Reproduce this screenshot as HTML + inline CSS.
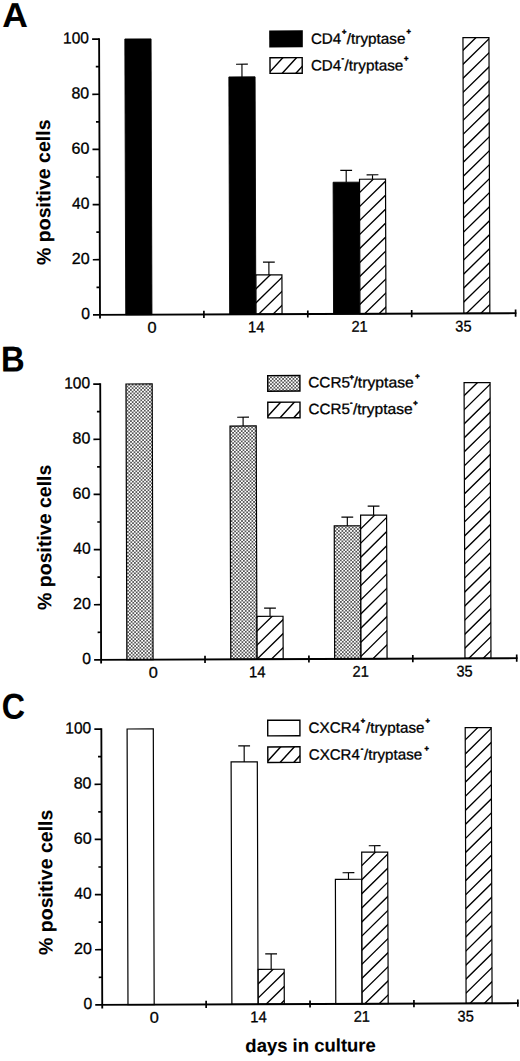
<!DOCTYPE html>
<html><head><meta charset="utf-8"><style>
html,body{margin:0;padding:0;background:#fff;}
svg{display:block;}
text{font-family:"Liberation Sans", sans-serif;fill:#000;stroke:#000;stroke-width:0.3px;stroke-linejoin:round;}
text[font-weight=bold]{stroke-width:0.1px;}
</style></head><body>
<svg width="520" height="1061" viewBox="0 0 520 1061">
<defs><pattern id="dots" patternUnits="userSpaceOnUse" width="3.46" height="3.46"><rect width="3.46" height="3.46" fill="#fff"/><circle cx="0.865" cy="0.865" r="0.77" fill="#000"/><circle cx="2.5949999999999998" cy="2.5949999999999998" r="0.77" fill="#000"/></pattern>
<clipPath id="c1"><rect x="256.05" y="275.58" width="26.00" height="39.27"/></clipPath><clipPath id="c2"><rect x="359.95" y="180.28" width="26.00" height="134.57"/></clipPath><clipPath id="c3"><rect x="463.85" y="39.10" width="26.00" height="275.75"/></clipPath><clipPath id="c4"><rect x="270.82" y="58.43" width="32.20" height="15.60"/></clipPath><clipPath id="c5"><rect x="256.05" y="616.97" width="26.00" height="42.88"/></clipPath><clipPath id="c6"><rect x="359.95" y="516.18" width="26.00" height="143.67"/></clipPath><clipPath id="c7"><rect x="463.85" y="384.10" width="26.00" height="275.75"/></clipPath><clipPath id="c8"><rect x="267.50" y="402.92" width="32.20" height="15.60"/></clipPath><clipPath id="c9"><rect x="256.05" y="969.97" width="26.00" height="34.88"/></clipPath><clipPath id="c10"><rect x="359.95" y="853.19" width="26.00" height="151.66"/></clipPath><clipPath id="c11"><rect x="463.85" y="729.10" width="26.00" height="275.75"/></clipPath><clipPath id="c12"><rect x="266.38" y="747.62" width="32.20" height="15.60"/></clipPath>
</defs>
<rect width="520" height="1061" fill="#fff"/>
<g transform="matrix(1,-0.004,0.00325,1,-1.0233,0.4000)">
<text x="3.15" y="26.51" font-size="34.59" font-weight="bold" textLength="25.62" lengthAdjust="spacingAndGlyphs">A</text>
<text transform="translate(50.56,264.89) rotate(-90)" font-size="19.4" font-weight="bold" textLength="145.69" lengthAdjust="spacingAndGlyphs">% positive cells</text>
<rect x="125.75" y="39.10" width="26.20" height="275.75" fill="#000" stroke="#000" stroke-width="0.9"/>
<rect x="229.65" y="77.48" width="26.20" height="237.37" fill="#000" stroke="#000" stroke-width="0.9"/>
<path d="M242.75 77.48V64.77M236.85 64.77H248.65" stroke="#000" stroke-width="1.15" fill="none"/>
<rect x="256.05" y="275.58" width="26.00" height="39.27" fill="#fff"/>
<path clip-path="url(#c1)" d="M198.99 316.85L243.55 273.58M213.39 316.85L257.95 273.58M227.79 316.85L272.35 273.58M242.19 316.85L286.75 273.58M256.59 316.85L301.15 273.58M270.99 316.85L315.55 273.58M285.39 316.85L329.95 273.58" stroke="#000" stroke-width="1.35" fill="none"/>
<rect x="256.05" y="275.58" width="26.00" height="39.27" fill="none" stroke="#000" stroke-width="1.2"/>
<path d="M269.05 275.58V262.79M263.15 262.79H274.95" stroke="#000" stroke-width="1.15" fill="none"/>
<rect x="333.55" y="183.18" width="26.20" height="131.67" fill="#000" stroke="#000" stroke-width="0.9"/>
<path d="M346.65 183.18V171.38M340.75 171.38H352.55" stroke="#000" stroke-width="1.15" fill="none"/>
<rect x="359.95" y="180.28" width="26.00" height="134.57" fill="#fff"/>
<path clip-path="url(#c2)" d="M204.19 316.85L346.91 178.28M218.59 316.85L361.31 178.28M232.99 316.85L375.71 178.28M247.39 316.85L390.11 178.28M261.79 316.85L404.51 178.28M276.19 316.85L418.91 178.28M290.59 316.85L433.31 178.28M304.99 316.85L447.71 178.28M319.39 316.85L462.11 178.28M333.79 316.85L476.51 178.28M348.19 316.85L490.91 178.28M362.59 316.85L505.31 178.28M376.99 316.85L519.71 178.28M391.39 316.85L534.11 178.28" stroke="#000" stroke-width="1.35" fill="none"/>
<rect x="359.95" y="180.28" width="26.00" height="134.57" fill="none" stroke="#000" stroke-width="1.2"/>
<path d="M372.95 180.28V175.90M367.05 175.90H378.85" stroke="#000" stroke-width="1.15" fill="none"/>
<rect x="463.85" y="39.10" width="26.00" height="275.75" fill="#fff"/>
<path clip-path="url(#c3)" d="M161.99 316.85L450.13 37.10M176.39 316.85L464.53 37.10M190.79 316.85L478.93 37.10M205.19 316.85L493.33 37.10M219.59 316.85L507.73 37.10M233.99 316.85L522.13 37.10M248.39 316.85L536.53 37.10M262.79 316.85L550.93 37.10M277.19 316.85L565.33 37.10M291.59 316.85L579.73 37.10M305.99 316.85L594.13 37.10M320.39 316.85L608.53 37.10M334.79 316.85L622.93 37.10M349.19 316.85L637.33 37.10M363.59 316.85L651.73 37.10M377.99 316.85L666.13 37.10M392.39 316.85L680.53 37.10M406.79 316.85L694.93 37.10M421.19 316.85L709.33 37.10M435.59 316.85L723.73 37.10M449.99 316.85L738.13 37.10M464.39 316.85L752.53 37.10M478.79 316.85L766.93 37.10M493.19 316.85L781.33 37.10" stroke="#000" stroke-width="1.35" fill="none"/>
<rect x="463.85" y="39.10" width="26.00" height="275.75" fill="none" stroke="#000" stroke-width="1.2"/>
<path d="M100.00 38.30V318.45M93.00 314.85H516.40" stroke="#000" stroke-width="1.85" fill="none"/>
<path d="M96.60 287.28H100.00M93.00 259.70H100.00M96.60 232.13H100.00M93.00 204.55H100.00M96.60 176.98H100.00M93.00 149.40H100.00M96.60 121.83H100.00M93.00 94.25H100.00M96.60 66.68H100.00M93.00 39.10H100.00M203.90 311.25V318.45M307.80 311.25V318.45M411.70 311.25V318.45M515.60 311.25V318.45" stroke="#000" stroke-width="1.7" fill="none"/>
<text x="81.14" y="319.05" font-size="16.0" textLength="8.73" lengthAdjust="spacingAndGlyphs">0</text>
<text x="72.00" y="263.90" font-size="16.0" textLength="17.89" lengthAdjust="spacingAndGlyphs">20</text>
<text x="72.44" y="208.75" font-size="16.0" textLength="17.43" lengthAdjust="spacingAndGlyphs">40</text>
<text x="71.98" y="153.60" font-size="16.0" textLength="17.90" lengthAdjust="spacingAndGlyphs">60</text>
<text x="72.11" y="98.45" font-size="16.0" textLength="17.76" lengthAdjust="spacingAndGlyphs">80</text>
<text x="63.97" y="43.30" font-size="16.0" textLength="25.89" lengthAdjust="spacingAndGlyphs">100</text>
<text x="147.46" y="332.85" font-size="15.5" textLength="9.08" lengthAdjust="spacingAndGlyphs">0</text>
<text x="247.87" y="332.85" font-size="15.5" textLength="16.57" lengthAdjust="spacingAndGlyphs">14</text>
<text x="351.36" y="332.85" font-size="15.5" textLength="16.36" lengthAdjust="spacingAndGlyphs">21</text>
<text x="455.25" y="332.85" font-size="15.5" textLength="16.17" lengthAdjust="spacingAndGlyphs">35</text>
<rect x="270.12" y="31.08" width="33.6" height="17.0" fill="#000"/>
<path clip-path="url(#c4)" d="M240.08 76.03L258.12 56.43M253.78 76.03L271.82 56.43M267.48 76.03L285.52 56.43M281.18 76.03L299.22 56.43M294.88 76.03L312.92 56.43M308.58 76.03L326.62 56.43" stroke="#000" stroke-width="1.45" fill="none"/>
<rect x="270.82" y="58.43" width="32.20" height="15.60" fill="none" stroke="#000" stroke-width="1.4"/>
<text x="311.81" y="44.75" font-size="15" textLength="30.32" lengthAdjust="spacingAndGlyphs">CD4</text>
<text x="342.83" y="35.27" font-size="7.5" font-weight="bold" style="stroke-width:0.5px">+</text>
<text x="347.68" y="44.89" font-size="15" textLength="58.67" lengthAdjust="spacingAndGlyphs">/tryptase</text>
<text x="407.33" y="35.32" font-size="7.5" font-weight="bold" style="stroke-width:0.5px">+</text>
<text x="311.72" y="71.45" font-size="15" textLength="30.32" lengthAdjust="spacingAndGlyphs">CD4</text>
<text x="342.39" y="61.72" font-size="7.5" font-weight="bold" style="stroke-width:0.5px">-</text>
<text x="345.39" y="71.58" font-size="15" textLength="58.77" lengthAdjust="spacingAndGlyphs">/tryptase</text>
<text x="404.74" y="62.11" font-size="7.5" font-weight="bold" style="stroke-width:0.5px">+</text><text x="0.72" y="371.11" font-size="35.76" font-weight="bold" textLength="23.68" lengthAdjust="spacingAndGlyphs">B</text>
<text transform="translate(50.34,609.79) rotate(-90)" font-size="19.4" font-weight="bold" textLength="145.38" lengthAdjust="spacingAndGlyphs">% positive cells</text>
<rect x="125.75" y="384.10" width="26.20" height="275.75" fill="url(#dots)" stroke="#000" stroke-width="1.2"/>
<rect x="229.65" y="426.57" width="26.20" height="233.28" fill="url(#dots)" stroke="#000" stroke-width="1.2"/>
<path d="M242.75 426.57V417.77M236.85 417.77H248.65" stroke="#000" stroke-width="1.15" fill="none"/>
<rect x="256.05" y="616.97" width="26.00" height="42.88" fill="#fff"/>
<path clip-path="url(#c5)" d="M181.79 661.85L230.08 614.97M196.19 661.85L244.48 614.97M210.59 661.85L258.88 614.97M224.99 661.85L273.28 614.97M239.39 661.85L287.68 614.97M253.79 661.85L302.08 614.97M268.19 661.85L316.48 614.97M282.59 661.85L330.88 614.97" stroke="#000" stroke-width="1.35" fill="none"/>
<rect x="256.05" y="616.97" width="26.00" height="42.88" fill="none" stroke="#000" stroke-width="1.2"/>
<path d="M269.05 616.97V608.78M263.15 608.78H274.95" stroke="#000" stroke-width="1.15" fill="none"/>
<rect x="333.55" y="526.80" width="26.20" height="133.05" fill="url(#dots)" stroke="#000" stroke-width="1.2"/>
<path d="M346.65 526.80V518.09M340.75 518.09H352.55" stroke="#000" stroke-width="1.15" fill="none"/>
<rect x="359.95" y="516.18" width="26.00" height="143.67" fill="#fff"/>
<path clip-path="url(#c6)" d="M196.96 661.85L347.29 514.18M211.36 661.85L361.69 514.18M225.76 661.85L376.09 514.18M240.16 661.85L390.49 514.18M254.56 661.85L404.89 514.18M268.96 661.85L419.29 514.18M283.36 661.85L433.69 514.18M297.76 661.85L448.09 514.18M312.16 661.85L462.49 514.18M326.56 661.85L476.89 514.18M340.96 661.85L491.29 514.18M355.36 661.85L505.69 514.18M369.76 661.85L520.09 514.18M384.16 661.85L534.49 514.18" stroke="#000" stroke-width="1.35" fill="none"/>
<rect x="359.95" y="516.18" width="26.00" height="143.67" fill="none" stroke="#000" stroke-width="1.2"/>
<path d="M372.95 516.18V507.19M367.05 507.19H378.85" stroke="#000" stroke-width="1.15" fill="none"/>
<rect x="463.85" y="384.10" width="26.00" height="275.75" fill="#fff"/>
<path clip-path="url(#c7)" d="M163.20 661.85L450.50 382.10M177.60 661.85L464.90 382.10M192.00 661.85L479.30 382.10M206.40 661.85L493.70 382.10M220.80 661.85L508.10 382.10M235.20 661.85L522.50 382.10M249.60 661.85L536.90 382.10M264.00 661.85L551.30 382.10M278.40 661.85L565.70 382.10M292.80 661.85L580.10 382.10M307.20 661.85L594.50 382.10M321.60 661.85L608.90 382.10M336.00 661.85L623.30 382.10M350.40 661.85L637.70 382.10M364.80 661.85L652.10 382.10M379.20 661.85L666.50 382.10M393.60 661.85L680.90 382.10M408.00 661.85L695.30 382.10M422.40 661.85L709.70 382.10M436.80 661.85L724.10 382.10M451.20 661.85L738.50 382.10M465.60 661.85L752.90 382.10M480.00 661.85L767.30 382.10M494.40 661.85L781.70 382.10" stroke="#000" stroke-width="1.35" fill="none"/>
<rect x="463.85" y="384.10" width="26.00" height="275.75" fill="none" stroke="#000" stroke-width="1.2"/>
<path d="M100.00 383.30V663.45M93.00 659.85H516.40" stroke="#000" stroke-width="1.85" fill="none"/>
<path d="M96.60 632.27H100.00M93.00 604.70H100.00M96.60 577.12H100.00M93.00 549.55H100.00M96.60 521.98H100.00M93.00 494.40H100.00M96.60 466.83H100.00M93.00 439.25H100.00M96.60 411.68H100.00M93.00 384.10H100.00M203.90 656.25V663.45M307.80 656.25V663.45M411.70 656.25V663.45M515.60 656.25V663.45" stroke="#000" stroke-width="1.7" fill="none"/>
<text x="81.14" y="664.05" font-size="16.0" textLength="8.73" lengthAdjust="spacingAndGlyphs">0</text>
<text x="72.00" y="608.90" font-size="16.0" textLength="17.89" lengthAdjust="spacingAndGlyphs">20</text>
<text x="72.44" y="553.75" font-size="16.0" textLength="17.43" lengthAdjust="spacingAndGlyphs">40</text>
<text x="71.98" y="498.60" font-size="16.0" textLength="17.90" lengthAdjust="spacingAndGlyphs">60</text>
<text x="72.11" y="443.45" font-size="16.0" textLength="17.76" lengthAdjust="spacingAndGlyphs">80</text>
<text x="63.97" y="388.30" font-size="16.0" textLength="25.89" lengthAdjust="spacingAndGlyphs">100</text>
<text x="147.46" y="677.85" font-size="15.5" textLength="9.08" lengthAdjust="spacingAndGlyphs">0</text>
<text x="247.87" y="677.85" font-size="15.5" textLength="16.57" lengthAdjust="spacingAndGlyphs">14</text>
<text x="351.36" y="677.85" font-size="15.5" textLength="16.36" lengthAdjust="spacingAndGlyphs">21</text>
<text x="455.25" y="677.85" font-size="15.5" textLength="16.17" lengthAdjust="spacingAndGlyphs">35</text>
<rect x="267.50" y="376.27" width="32.20" height="15.60" fill="url(#dots)" stroke="#000" stroke-width="1.4"/>
<path clip-path="url(#c8)" d="M236.76 420.52L254.80 400.92M250.46 420.52L268.50 400.92M264.16 420.52L282.20 400.92M277.86 420.52L295.90 400.92M291.56 420.52L309.60 400.92M305.26 420.52L323.30 400.92" stroke="#000" stroke-width="1.45" fill="none"/>
<rect x="267.50" y="402.92" width="32.20" height="15.60" fill="none" stroke="#000" stroke-width="1.4"/>
<text x="307.98" y="388.44" font-size="15" textLength="41.82" lengthAdjust="spacingAndGlyphs">CCR5</text>
<text x="349.30" y="380.70" font-size="7.5" font-weight="bold" style="stroke-width:0.5px">+</text>
<text x="353.26" y="388.61" font-size="15" textLength="60.39" lengthAdjust="spacingAndGlyphs">/tryptase</text>
<text x="415.11" y="380.06" font-size="7.5" font-weight="bold" style="stroke-width:0.5px">+</text>
<text x="308.30" y="415.04" font-size="15" textLength="41.41" lengthAdjust="spacingAndGlyphs">CCR5</text>
<text x="349.67" y="406.15" font-size="7.5" font-weight="bold" style="stroke-width:0.5px">-</text>
<text x="352.58" y="415.21" font-size="15" textLength="59.89" lengthAdjust="spacingAndGlyphs">/tryptase</text>
<text x="412.92" y="406.65" font-size="7.5" font-weight="bold" style="stroke-width:0.5px">+</text><text x="0.46" y="718.45" font-size="35.88" font-weight="bold" textLength="23.30" lengthAdjust="spacingAndGlyphs">C</text>
<text transform="translate(50.52,954.80) rotate(-90)" font-size="19.4" font-weight="bold" textLength="145.38" lengthAdjust="spacingAndGlyphs">% positive cells</text>
<rect x="125.75" y="729.10" width="26.20" height="275.75" fill="#fff" stroke="#000" stroke-width="1.2"/>
<rect x="229.65" y="762.49" width="26.20" height="242.36" fill="#fff" stroke="#000" stroke-width="1.2"/>
<path d="M242.75 762.49V746.47M236.85 746.47H248.65" stroke="#000" stroke-width="1.15" fill="none"/>
<rect x="256.05" y="969.97" width="26.00" height="34.88" fill="#fff"/>
<path clip-path="url(#c9)" d="M189.79 1006.85L229.84 967.97M204.19 1006.85L244.24 967.97M218.59 1006.85L258.64 967.97M232.99 1006.85L273.04 967.97M247.39 1006.85L287.44 967.97M261.79 1006.85L301.84 967.97M276.19 1006.85L316.24 967.97M290.59 1006.85L330.64 967.97" stroke="#000" stroke-width="1.35" fill="none"/>
<rect x="256.05" y="969.97" width="26.00" height="34.88" fill="none" stroke="#000" stroke-width="1.2"/>
<path d="M269.05 969.97V954.58M263.15 954.58H274.95" stroke="#000" stroke-width="1.15" fill="none"/>
<rect x="333.55" y="880.29" width="26.20" height="124.56" fill="#fff" stroke="#000" stroke-width="1.2"/>
<path d="M346.65 880.29V873.70M340.75 873.70H352.55" stroke="#000" stroke-width="1.15" fill="none"/>
<rect x="359.95" y="853.19" width="26.00" height="151.66" fill="#fff"/>
<path clip-path="url(#c10)" d="M187.70 1006.85L346.95 851.19M202.10 1006.85L361.35 851.19M216.50 1006.85L375.75 851.19M230.90 1006.85L390.15 851.19M245.30 1006.85L404.55 851.19M259.70 1006.85L418.95 851.19M274.10 1006.85L433.35 851.19M288.50 1006.85L447.75 851.19M302.90 1006.85L462.15 851.19M317.30 1006.85L476.55 851.19M331.70 1006.85L490.95 851.19M346.10 1006.85L505.35 851.19M360.50 1006.85L519.75 851.19M374.90 1006.85L534.15 851.19M389.30 1006.85L548.55 851.19" stroke="#000" stroke-width="1.35" fill="none"/>
<rect x="359.95" y="853.19" width="26.00" height="151.66" fill="none" stroke="#000" stroke-width="1.2"/>
<path d="M372.95 853.19V846.79M367.05 846.79H378.85" stroke="#000" stroke-width="1.15" fill="none"/>
<rect x="463.85" y="729.10" width="26.00" height="275.75" fill="#fff"/>
<path clip-path="url(#c11)" d="M163.30 1006.85L449.63 727.10M177.70 1006.85L464.03 727.10M192.10 1006.85L478.43 727.10M206.50 1006.85L492.83 727.10M220.90 1006.85L507.23 727.10M235.30 1006.85L521.63 727.10M249.70 1006.85L536.03 727.10M264.10 1006.85L550.43 727.10M278.50 1006.85L564.83 727.10M292.90 1006.85L579.23 727.10M307.30 1006.85L593.63 727.10M321.70 1006.85L608.03 727.10M336.10 1006.85L622.43 727.10M350.50 1006.85L636.83 727.10M364.90 1006.85L651.23 727.10M379.30 1006.85L665.63 727.10M393.70 1006.85L680.03 727.10M408.10 1006.85L694.43 727.10M422.50 1006.85L708.83 727.10M436.90 1006.85L723.23 727.10M451.30 1006.85L737.63 727.10M465.70 1006.85L752.03 727.10M480.10 1006.85L766.43 727.10M494.50 1006.85L780.83 727.10" stroke="#000" stroke-width="1.35" fill="none"/>
<rect x="463.85" y="729.10" width="26.00" height="275.75" fill="none" stroke="#000" stroke-width="1.2"/>
<path d="M100.00 728.30V1008.45M93.00 1004.85H516.40" stroke="#000" stroke-width="1.85" fill="none"/>
<path d="M96.60 977.27H100.00M93.00 949.70H100.00M96.60 922.12H100.00M93.00 894.55H100.00M96.60 866.98H100.00M93.00 839.40H100.00M96.60 811.83H100.00M93.00 784.25H100.00M96.60 756.68H100.00M93.00 729.10H100.00M203.90 1001.25V1008.45M307.80 1001.25V1008.45M411.70 1001.25V1008.45M515.60 1001.25V1008.45" stroke="#000" stroke-width="1.7" fill="none"/>
<text x="81.14" y="1009.05" font-size="16.0" textLength="8.73" lengthAdjust="spacingAndGlyphs">0</text>
<text x="72.00" y="953.90" font-size="16.0" textLength="17.89" lengthAdjust="spacingAndGlyphs">20</text>
<text x="72.44" y="898.75" font-size="16.0" textLength="17.43" lengthAdjust="spacingAndGlyphs">40</text>
<text x="71.98" y="843.60" font-size="16.0" textLength="17.90" lengthAdjust="spacingAndGlyphs">60</text>
<text x="72.11" y="788.45" font-size="16.0" textLength="17.76" lengthAdjust="spacingAndGlyphs">80</text>
<text x="63.97" y="733.30" font-size="16.0" textLength="25.89" lengthAdjust="spacingAndGlyphs">100</text>
<text x="147.46" y="1022.85" font-size="15.5" textLength="9.08" lengthAdjust="spacingAndGlyphs">0</text>
<text x="247.87" y="1022.85" font-size="15.5" textLength="16.57" lengthAdjust="spacingAndGlyphs">14</text>
<text x="351.36" y="1022.85" font-size="15.5" textLength="16.36" lengthAdjust="spacingAndGlyphs">21</text>
<text x="455.25" y="1022.85" font-size="15.5" textLength="16.17" lengthAdjust="spacingAndGlyphs">35</text>
<rect x="266.38" y="720.97" width="32.20" height="15.60" fill="#fff" stroke="#000" stroke-width="1.4"/>
<path clip-path="url(#c12)" d="M235.64 765.22L253.68 745.62M249.34 765.22L267.38 745.62M263.04 765.22L281.08 745.62M276.74 765.22L294.78 745.62M290.44 765.22L308.48 745.62M304.14 765.22L322.18 745.62" stroke="#000" stroke-width="1.45" fill="none"/>
<rect x="266.38" y="747.62" width="32.20" height="15.60" fill="none" stroke="#000" stroke-width="1.4"/>
<text x="307.26" y="733.74" font-size="15" textLength="51.61" lengthAdjust="spacingAndGlyphs">CXCR4</text>
<text x="359.49" y="724.34" font-size="7.5" font-weight="bold" style="stroke-width:0.5px">+</text>
<text x="364.74" y="733.96" font-size="15" textLength="58.37" lengthAdjust="spacingAndGlyphs">/tryptase</text>
<text x="424.09" y="724.60" font-size="7.5" font-weight="bold" style="stroke-width:0.5px">+</text>
<text x="307.28" y="760.59" font-size="15" textLength="51.20" lengthAdjust="spacingAndGlyphs">CXCR4</text>
<text x="359.34" y="752.29" font-size="7.5" font-weight="bold" style="stroke-width:0.5px">-</text>
<text x="362.55" y="760.81" font-size="15" textLength="58.17" lengthAdjust="spacingAndGlyphs">/tryptase</text>
<text x="423.20" y="752.30" font-size="7.5" font-weight="bold" style="stroke-width:0.5px">+</text><text x="242.95" y="1052.48" font-size="18.3" font-weight="bold" textLength="130.50" lengthAdjust="spacingAndGlyphs">days in culture</text>
</g>
</svg>
</body></html>
